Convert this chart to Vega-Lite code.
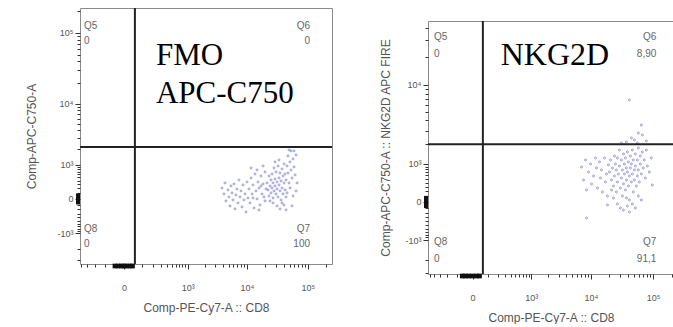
{
  "$schema": "https://vega.github.io/schema/vega-lite/v6.json",
  "padding": {"left": 25, "top": 6, "right": 0, "bottom": 0},
  "spacing": 45,
  "resolve": {"scale": {"x": "independent", "y": "independent"}},
  "config": {
    "view": {"stroke": "#8a8a8a", "strokeWidth": 1},
    "font": "Liberation Sans",
    "axis": {"grid": false, "domain": false, "tickCount": 500, "labelFont": "Liberation Sans", "labelFontSize": 9, "labelColor": "#555555", "tickColor": "#333333", "titleFont": "Liberation Sans", "titleFontSize": 12, "titleFontWeight": "normal", "titleColor": "#555555", "labelOverlap": false, "labelBound": false, "labelFlush": false}
  },
  "datasets": {
    "cells1": [{"x":3868,"y":210},{"x":4178,"y":87},{"x":4341,"y":334},{"x":4511,"y":-33},{"x":4871,"y":167},{"x":5062,"y":33},{"x":5259,"y":-125},{"x":5464,"y":258},{"x":5677,"y":106},{"x":5898,"y":-16},{"x":6128,"y":308},{"x":6366,"y":-188},{"x":6614,"y":68},{"x":6871,"y":188},{"x":7138,"y":-68},{"x":7415,"y":418},{"x":7703,"y":33},{"x":8001,"y":146},{"x":8311,"y":-146},{"x":8633,"y":282},{"x":8968,"y":-16},{"x":9315,"y":87},{"x":9675,"y":-258},{"x":10050,"y":361},{"x":10440,"y":16},
      {"x":10840,"y":188},{"x":11260,"y":-68},{"x":11700,"y":478},{"x":12150,"y":87},{"x":12620,"y":282},{"x":13100,"y":-167},{"x":13610,"y":612},{"x":14130,"y":146},{"x":14680,"y":0},{"x":15240,"y":361},{"x":15830,"y":210},{"x":16440,"y":-106},{"x":17080,"y":543},{"x":17730,"y":87},{"x":18420,"y":308},{"x":19130,"y":33},{"x":19860,"y":685},{"x":20620,"y":188},{"x":11700,"y":847},{"x":14680,"y":764},{"x":18420,"y":936},{"x":15830,"y":-210},{"x":12620,"y":16},{"x":17080,"y":258},{"x":19860,"y":-33},
      {"x":21420,"y":334},{"x":22240,"y":167},{"x":23100,"y":543},{"x":23100,"y":50},{"x":23990,"y":258},{"x":24910,"y":418},{"x":24910,"y":106},{"x":25870,"y":612},{"x":25870,"y":210},{"x":26860,"y":334},{"x":26860,"y":16},{"x":27890,"y":847},{"x":27890,"y":146},{"x":28960,"y":448},{"x":28960,"y":258},{"x":30080,"y":87},{"x":30080,"y":685},{"x":31230,"y":361},{"x":31230,"y":188},{"x":32430,"y":936},{"x":32430,"y":33},{"x":33680,"y":478},{"x":33680,"y":282},{"x":34970,"y":146},{"x":34970,"y":648},{"x":36310,"y":389},{"x":36310,"y":-16},{"x":37710,"y":805},{"x":37710,"y":210},{"x":39150,"y":543},{"x":39150,"y":87},{"x":40650,"y":334},{"x":40650,"y":1031},{"x":42210,"y":167},{"x":42210,"y":612},{"x":43830,"y":418},{"x":43830,"y":33},{"x":26860,"y":-68},{"x":31230,"y":-125},{"x":34970,"y":-188},{"x":40650,"y":-106},{"x":23990,"y":-33},{"x":28960,"y":1132},{"x":33680,"y":1240},{"x":37710,"y":-68},
      {"x":45510,"y":936},{"x":47260,"y":648},{"x":47260,"y":1477},{"x":49070,"y":334},{"x":50950,"y":1132},{"x":52910,"y":764},{"x":52910,"y":1820},{"x":54930,"y":478},{"x":57040,"y":1296},{"x":59230,"y":891},{"x":61500,"y":577},{"x":63850,"y":1541},{"x":49070,"y":1895},{"x":59230,"y":1820},{"x":66300,"y":334},{"x":45510,"y":106},{"x":50950,"y":210},{"x":57040,"y":50},{"x":54930,"y":-125},{"x":43830,"y":-210},{"x":63850,"y":146}],
    "cells2": [{"x":7067,"y":883},{"x":7615,"y":469},{"x":8206,"y":1163},{"x":8518,"y":226},{"x":9177,"y":709},{"x":9885,"y":997},{"x":10260,"y":365},{"x":11050,"y":583},{"x":11900,"y":1252},{"x":12350,"y":846},{"x":12820,"y":270},{"x":13810,"y":1078},{"x":14330,"y":525},{"x":14870,"y":776},{"x":15430,"y":184},{"x":16620,"y":1252},{"x":17240,"y":416},{"x":17890,"y":645},{"x":18560,"y":105},{"x":19260,"y":958},{"x":8518,"y":-316},
      {"x":19990,"y":709},{"x":20740,"y":1163},{"x":21530,"y":469},{"x":22330,"y":846},{"x":23180,"y":316},{"x":24050,"y":1345},{"x":24050,"y":583},{"x":24950,"y":997},{"x":25880,"y":184},{"x":25880,"y":776},{"x":26860,"y":1252},{"x":26860,"y":416},{"x":27870,"y":645},{"x":28910,"y":1652},{"x":28910,"y":920},{"x":30000,"y":270},{"x":31130,"y":1163},{"x":31130,"y":525},{"x":32300,"y":776},{"x":32300,"y":105},{"x":33510,"y":1443},{"x":33510,"y":365},{"x":34770,"y":997},{"x":34770,"y":645},{"x":36080,"y":1252},{"x":36080,"y":226},{"x":37430,"y":846},{"x":37430,"y":469},{"x":38830,"y":1545},{"x":38830,"y":709},{"x":40290,"y":1078},{"x":40290,"y":316},{"x":41800,"y":583},{"x":41800,"y":33},{"x":43370,"y":1345},{"x":43370,"y":846},{"x":44990,"y":416},{"x":44990,"y":997},{"x":46680,"y":1652},{"x":46680,"y":645},{"x":48430,"y":1163},{"x":48430,"y":184},{"x":50240,"y":776},{"x":50240,"y":469},{"x":52130,"y":1443},{"x":52130,"y":920},{"x":54090,"y":316},{"x":56120,"y":1163},{"x":56120,"y":583},{"x":58220,"y":1765},{"x":58220,"y":776},{"x":60410,"y":416},{"x":62670,"y":997},{"x":62670,"y":1345},{"x":65010,"y":645},{"x":67450,"y":1545},{"x":69970,"y":846},{"x":72600,"y":1163},{"x":75320,"y":525},{"x":78140,"y":1652},{"x":81070,"y":920},{"x":87260,"y":709},{"x":93910,"y":1252},{"x":97400,"y":340},{"x":23180,"y":68},{"x":26860,"y":-33},{"x":30000,"y":-105},{"x":33510,"y":-144},{"x":37430,"y":68},{"x":41800,"y":-184},{"x":46680,"y":-33},{"x":52130,"y":-105},{"x":58220,"y":105},{"x":65010,"y":33},{"x":21530,"y":226},{"x":18560,"y":-50},{"x":38830,"y":-68},
      {"x":41800,"y":6845},{"x":65010,"y":3513},{"x":58220,"y":2796},{"x":67450,"y":2637},{"x":50240,"y":2270},{"x":44990,"y":2412},{"x":37430,"y":2135},{"x":56120,"y":2070},{"x":31130,"y":2070},{"x":78140,"y":2200}],
    "edge1X": [{"x":-40,"y":-3500},{"x":-25,"y":-3500},{"x":-10,"y":-3500},{"x":0,"y":-3500},{"x":10,"y":-3500},{"x":25,"y":-3500},{"x":38,"y":-3500}],
    "edge1Y": [{"x":-420,"y":-60},{"x":-420,"y":-20},{"x":-420,"y":20},{"x":-420,"y":60}],
    "edge2X": [{"x":-60,"y":-3050},{"x":-40,"y":-3050},{"x":-20,"y":-3050},{"x":0,"y":-3050},{"x":20,"y":-3050},{"x":38,"y":-3050}],
    "edge2Y": [{"x":-541,"y":-70},{"x":-541,"y":-25},{"x":-541,"y":25},{"x":-541,"y":70}],
    "gate1V": [{"x":51}],
    "gate1H": [{"y":2136}],
    "gate2V": [{"x":60}],
    "gate2H": [{"y":1990}],
    "quad1L": [{"x":-349,"y":114000,"label":"Q5"},{"x":-349,"y":70100,"label":"0"},{"x":-349,"y":-950,"label":"Q8"},{"x":-349,"y":-1820,"label":"0"}],
    "quad1R": [{"x":108000,"y":114000,"label":"Q6"},{"x":108000,"y":70100,"label":"0"},{"x":108000,"y":-950,"label":"Q7"},{"x":108000,"y":-1820,"label":"100"}],
    "quad2L": [{"x":-408,"y":29800,"label":"Q5"},{"x":-408,"y":19850,"label":"0"},{"x":-408,"y":-1206,"label":"Q8"},{"x":-408,"y":-2135,"label":"0"}],
    "quad2R": [{"x":112900,"y":29800,"label":"Q6"},{"x":112900,"y":19850,"label":"8,90"},{"x":112900,"y":-1206,"label":"Q7"},{"x":112900,"y":-2135,"label":"91,1"}],
    "big1": [{"x":233,"y":35500,"label":"FMO"},{"x":233,"y":10200,"label":"APC-C750"}],
    "big2": [{"x":237,"y":16370,"label":"NKG2D"}],
    "spacer": [{"s": 0}]
  },
  "hconcat": [
    {
      "width": 252,
      "height": 256,
      "layer": [
        {
          "data": {"name": "cells1"},
          "mark": {"type": "point", "filled": false, "size": 4, "strokeWidth": 0.7, "color": "#3f3fb8", "opacity": 0.7},
          "encoding": {
            "x": {"field": "x", "type": "quantitative",
              "scale": {"type": "symlog", "constant": 100, "domain": [-420, 246500], "nice": false, "zero": false},
              "axis": {"title": "Comp-PE-Cy7-A :: CD8",
                "values": [-400,-300,-200,-100,0,100,200,300,400,500,600,700,800,900,1000,2000,3000,4000,5000,6000,7000,8000,9000,10000,20000,30000,40000,50000,60000,70000,80000,90000,100000,200000],
                "labelExpr": "datum.value == 0 ? '0' : datum.value == 1000 ? '10³' : datum.value == 10000 ? '10⁴' : datum.value == 100000 ? '10⁵' : datum.value == -1000 ? '-10³' : ''",
                "tickSize": {"condition": {"test": "datum.value == 0 || abs(datum.value) == 1000 || datum.value == 10000 || datum.value == 100000", "value": 5}, "value": 3},
                "labelPadding": 14, "titlePadding": 10}},
            "y": {"field": "y", "type": "quantitative",
              "scale": {"type": "symlog", "constant": 500, "domain": [-3500, 222800], "nice": false, "zero": false},
              "axis": {"title": "Comp-APC-C750-A",
                "values": [-3000,-2000,-1000,-900,-800,-700,-600,-500,-400,-300,-200,-100,0,100,200,300,400,500,600,700,800,900,1000,2000,3000,4000,5000,6000,7000,8000,9000,10000,20000,30000,40000,50000,60000,70000,80000,90000,100000,200000],
                "labelExpr": "datum.value == 0 ? '0' : datum.value == 1000 ? '10³' : datum.value == 10000 ? '10⁴' : datum.value == 100000 ? '10⁵' : datum.value == -1000 ? '-10³' : ''",
                "tickSize": {"condition": {"test": "datum.value == 0 || abs(datum.value) == 1000 || datum.value == 10000 || datum.value == 100000", "value": 5}, "value": 3},
                "labelPadding": 2, "titlePadding": 18}}
          }
        },
        {"data": {"name": "edge1X"}, "mark": {"type": "square", "size": 22, "color": "#111111", "opacity": 1, "yOffset": 2}, "encoding": {"x": {"field": "x", "type": "quantitative"}, "y": {"field": "y", "type": "quantitative"}}},
        {"data": {"name": "edge1Y"}, "mark": {"type": "square", "size": 16, "color": "#111111", "opacity": 1, "xOffset": -2}, "encoding": {"x": {"field": "x", "type": "quantitative"}, "y": {"field": "y", "type": "quantitative"}}},
        {"data": {"name": "gate1V"}, "mark": {"type": "rule", "color": "#222222", "strokeWidth": 2}, "encoding": {"x": {"field": "x", "type": "quantitative"}}},
        {"data": {"name": "gate1H"}, "mark": {"type": "rule", "color": "#222222", "strokeWidth": 2}, "encoding": {"y": {"field": "y", "type": "quantitative"}}},
        {"data": {"name": "quad1L"}, "mark": {"type": "text", "align": "left", "baseline": "alphabetic", "fontSize": 10, "color": "#666666", "font": "Liberation Sans"}, "encoding": {"x": {"field": "x", "type": "quantitative"}, "y": {"field": "y", "type": "quantitative"}, "text": {"field": "label"}}},
        {"data": {"name": "quad1R"}, "mark": {"type": "text", "align": "right", "baseline": "alphabetic", "fontSize": 10, "color": "#666666", "font": "Liberation Sans"}, "encoding": {"x": {"field": "x", "type": "quantitative"}, "y": {"field": "y", "type": "quantitative"}, "text": {"field": "label"}}},
        {"data": {"name": "big1"}, "mark": {"type": "text", "align": "left", "baseline": "alphabetic", "fontSize": 31, "color": "#000000", "font": "Liberation Serif"}, "encoding": {"x": {"field": "x", "type": "quantitative"}, "y": {"field": "y", "type": "quantitative"}, "text": {"field": "label"}}}
      ]
    },
    {
      "spacing": 10,
      "vconcat": [
        {
          "width": 246,
          "height": 1,
          "view": {"stroke": null},
          "data": {"name": "spacer"},
          "mark": {"type": "rule", "opacity": 0},
          "encoding": {}
        },
        {
          "width": 246,
          "height": 253,
          "layer": [
            {
              "data": {"name": "cells2"},
              "mark": {"type": "point", "filled": false, "size": 4, "strokeWidth": 0.7, "color": "#3f3fb8", "opacity": 0.7},
              "encoding": {
                "x": {"field": "x", "type": "quantitative",
                  "scale": {"type": "symlog", "constant": 130, "domain": [-541, 216600], "nice": false, "zero": false},
                  "axis": {"title": "Comp-PE-Cy7-A :: CD8",
                    "values": [-500,-400,-300,-200,-100,0,100,200,300,400,500,600,700,800,900,1000,2000,3000,4000,5000,6000,7000,8000,9000,10000,20000,30000,40000,50000,60000,70000,80000,90000,100000,200000],
                    "labelExpr": "datum.value == 0 ? '0' : datum.value == 1000 ? '10³' : datum.value == 10000 ? '10⁴' : datum.value == 100000 ? '10⁵' : datum.value == -1000 ? '-10³' : ''",
                    "tickSize": {"condition": {"test": "datum.value == 0 || abs(datum.value) == 1000 || datum.value == 10000 || datum.value == 100000", "value": 5}, "value": 3},
                    "labelPadding": 14, "titlePadding": 10}},
                "y": {"field": "y", "type": "quantitative",
                  "scale": {"type": "symlog", "constant": 700, "domain": [-3050, 46800], "nice": false, "zero": false},
                  "axis": {"title": "Comp-APC-C750-A :: NKG2D APC FIRE",
                    "values": [-3000,-2000,-1000,-900,-800,-700,-600,-500,-400,-300,-200,-100,0,100,200,300,400,500,600,700,800,900,1000,2000,3000,4000,5000,6000,7000,8000,9000,10000,20000,30000,40000],
                    "labelExpr": "datum.value == 0 ? '0' : datum.value == 1000 ? '10³' : datum.value == 10000 ? '10⁴' : datum.value == 100000 ? '10⁵' : datum.value == -1000 ? '-10³' : ''",
                    "tickSize": {"condition": {"test": "datum.value == 0 || abs(datum.value) == 1000 || datum.value == 10000 || datum.value == 100000", "value": 5}, "value": 3},
                    "labelPadding": 2, "titlePadding": 12}}
              }
            },
            {"data": {"name": "edge2X"}, "mark": {"type": "square", "size": 22, "color": "#111111", "opacity": 1, "yOffset": 2}, "encoding": {"x": {"field": "x", "type": "quantitative"}, "y": {"field": "y", "type": "quantitative"}}},
            {"data": {"name": "edge2Y"}, "mark": {"type": "square", "size": 16, "color": "#111111", "opacity": 1, "xOffset": -2}, "encoding": {"x": {"field": "x", "type": "quantitative"}, "y": {"field": "y", "type": "quantitative"}}},
            {"data": {"name": "gate2V"}, "mark": {"type": "rule", "color": "#222222", "strokeWidth": 2}, "encoding": {"x": {"field": "x", "type": "quantitative"}}},
            {"data": {"name": "gate2H"}, "mark": {"type": "rule", "color": "#222222", "strokeWidth": 2}, "encoding": {"y": {"field": "y", "type": "quantitative"}}},
            {"data": {"name": "quad2L"}, "mark": {"type": "text", "align": "left", "baseline": "alphabetic", "fontSize": 10, "color": "#666666", "font": "Liberation Sans"}, "encoding": {"x": {"field": "x", "type": "quantitative"}, "y": {"field": "y", "type": "quantitative"}, "text": {"field": "label"}}},
            {"data": {"name": "quad2R"}, "mark": {"type": "text", "align": "right", "baseline": "alphabetic", "fontSize": 10, "color": "#666666", "font": "Liberation Sans"}, "encoding": {"x": {"field": "x", "type": "quantitative"}, "y": {"field": "y", "type": "quantitative"}, "text": {"field": "label"}}},
            {"data": {"name": "big2"}, "mark": {"type": "text", "align": "left", "baseline": "alphabetic", "fontSize": 32, "color": "#000000", "font": "Liberation Serif"}, "encoding": {"x": {"field": "x", "type": "quantitative"}, "y": {"field": "y", "type": "quantitative"}, "text": {"field": "label"}}}
          ]
        }
      ]
    }
  ]
}
